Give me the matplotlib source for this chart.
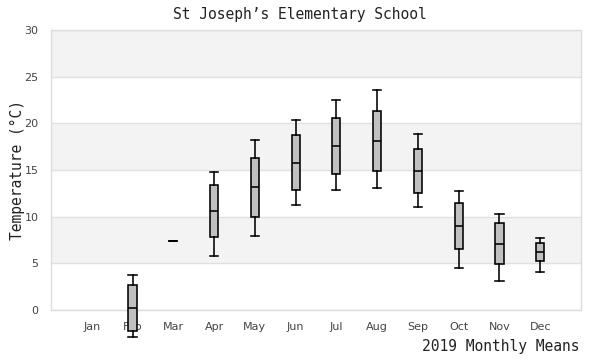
import matplotlib
matplotlib.use("Agg")
import matplotlib.pyplot as plt

months = ["Jan", "Feb", "Mar", "Apr", "May", "Jun", "Jul", "Aug", "Sep", "Oct", "Nov", "Dec"]
# Jan has no data
whisker_low = [None, -2.9, 7.4, 5.75, 7.9, 11.2, 12.85, 13.05, 11.0, 4.55, 3.1, 4.05]
q1 = [None, -2.2, 7.4, 7.8, 10.0, 12.85, 14.55, 14.9, 12.5, 6.5, 4.9, 5.25]
median = [None, 0.25, 7.4, 10.6, 13.2, 15.75, 17.55, 18.1, 14.9, 8.95, 7.05, 6.2]
q3 = [None, 2.65, 7.4, 13.35, 16.3, 18.7, 20.55, 21.3, 17.2, 11.45, 9.3, 7.15]
whisker_high = [None, 3.7, 7.4, 14.75, 18.2, 20.35, 22.5, 23.55, 18.85, 12.7, 10.3, 7.7]
y_ticks = [0, 5, 10, 15, 20, 25, 30]

fig = plt.figure(figsize=(6, 3.6), dpi=100)
ax = fig.add_axes([51 / 600, 1 - 310 / 360, 530 / 600, 280 / 360])

# alternating bands
for i in range(len(y_ticks) - 1):
    if i % 2 == 1:
        ax.axhspan(y_ticks[i], y_ticks[i + 1], color="#f3f3f3", zorder=0, lw=0)
for t in y_ticks:
    ax.axhline(t, color="#e0e0e0", lw=1, zorder=0.5)

stats = []
positions = []
for i, m in enumerate(months):
    if q1[i] is None:
        continue
    stats.append(dict(label=m, whislo=whisker_low[i], q1=q1[i], med=median[i],
                      q3=q3[i], whishi=whisker_high[i], fliers=[]))
    positions.append(i + 1)

lw = 1.15
res = ax.bxp(stats, positions=positions, widths=0.2, patch_artist=True,
             showfliers=False,
             boxprops=dict(facecolor="#c0c0c0", edgecolor="black", linewidth=lw),
             medianprops=dict(color="black", linewidth=lw),
             whiskerprops=dict(color="black", linewidth=lw),
             capprops=dict(color="black", linewidth=lw),
             capwidths=0.2, manage_ticks=False)
for key, arts in res.items():
    for a in arts:
        a.set_clip_on(False)
        a.set_zorder(3)

ax.set_xlim(0, 13)
ax.set_ylim(0, 30)
ax.set_xticks(range(1, 13))
ax.set_xticklabels(months)
ax.set_yticks(y_ticks)
ax.tick_params(axis="both", length=0, labelsize=8, labelcolor="#444444")
ax.tick_params(axis="y", pad=9)
ax.tick_params(axis="x", pad=9)
for s in ax.spines.values():
    s.set_color("#dddddd")
    s.set_linewidth(1)

mono = "DejaVu Sans Mono"
fig.text(0.5, 1 - 14 / 360, "St Joseph\u2019s Elementary School", ha="center", va="center",
         fontsize=10.5, family=mono, color="#222222")
fig.text(579 / 600, 1 - 347 / 360, "2019 Monthly Means", ha="right", va="center",
         fontsize=10.5, family=mono, color="#222222")
fig.text(17 / 600, 1 - 170 / 360, "Temperature (\u00b0C)", ha="center", va="center",
         rotation=90, fontsize=10.5, family=mono, color="#222222")

fig.savefig("out.png", dpi=100)
